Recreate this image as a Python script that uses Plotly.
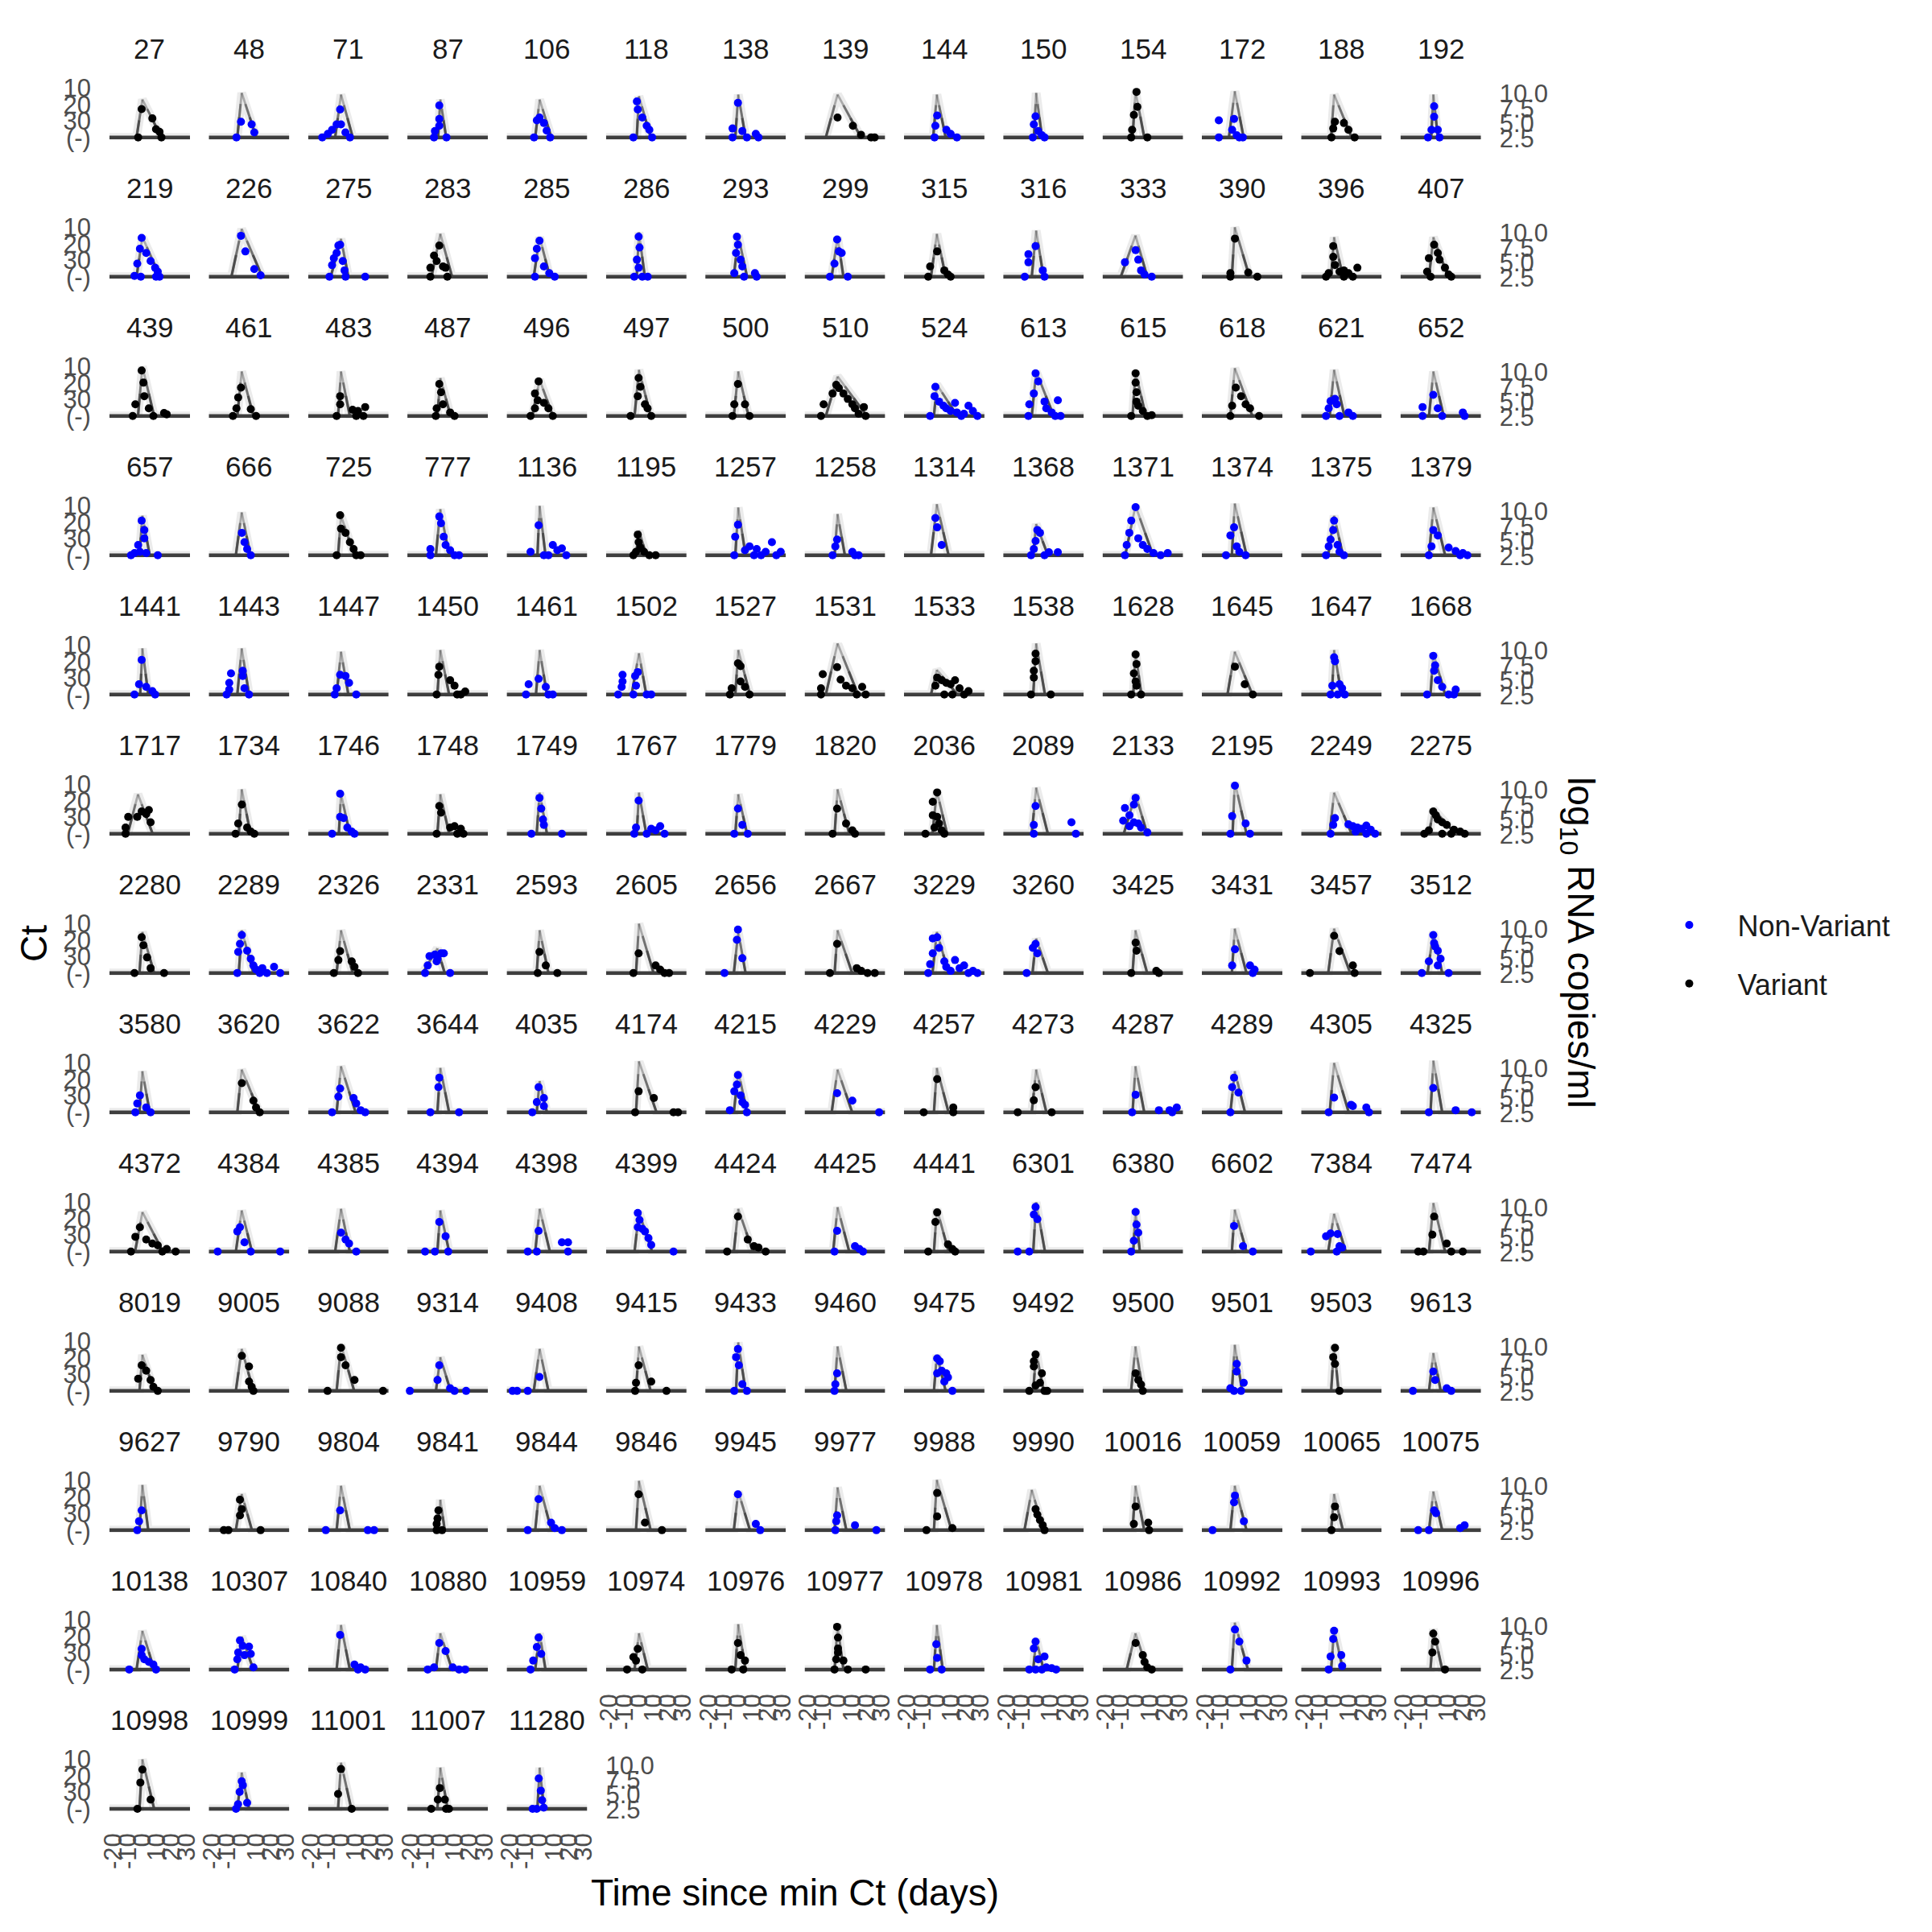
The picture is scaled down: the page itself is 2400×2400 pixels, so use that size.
import math
import plotly.graph_objects as go

# ---------------- data ----------------
ids = [27, 48, 71, 87, 106, 118, 138, 139, 144, 150, 154, 172, 188, 192,
       219, 226, 275, 283, 285, 286, 293, 299, 315, 316, 333, 390, 396, 407,
       439, 461, 483, 487, 496, 497, 500, 510, 524, 613, 615, 618, 621, 652,
       657, 666, 725, 777, 1136, 1195, 1257, 1258, 1314, 1368, 1371, 1374, 1375, 1379,
       1441, 1443, 1447, 1450, 1461, 1502, 1527, 1531, 1533, 1538, 1628, 1645, 1647, 1668,
       1717, 1734, 1746, 1748, 1749, 1767, 1779, 1820, 2036, 2089, 2133, 2195, 2249, 2275,
       2280, 2289, 2326, 2331, 2593, 2605, 2656, 2667, 3229, 3260, 3425, 3431, 3457, 3512,
       3580, 3620, 3622, 3644, 4035, 4174, 4215, 4229, 4257, 4273, 4287, 4289, 4305, 4325,
       4372, 4384, 4385, 4394, 4398, 4399, 4424, 4425, 4441, 6301, 6380, 6602, 7384, 7474,
       8019, 9005, 9088, 9314, 9408, 9415, 9433, 9460, 9475, 9492, 9500, 9501, 9503, 9613,
       9627, 9790, 9804, 9841, 9844, 9846, 9945, 9977, 9988, 9990, 10016, 10059, 10065, 10075,
       10138, 10307, 10840, 10880, 10959, 10974, 10976, 10977, 10978, 10981, 10986, 10992, 10993, 10996,
       10998, 10999, 11001, 11007, 11280]

# 1 = Variant, 0 = Non-Variant
is_variant = [1, 0, 0, 0, 0, 0, 0, 1, 0, 0, 1, 0, 1, 0,
              0, 0, 0, 1, 0, 0, 0, 0, 1, 0, 0, 1, 1, 1,
              1, 1, 1, 1, 1, 1, 1, 1, 0, 0, 1, 1, 0, 0,
              0, 0, 1, 0, 0, 1, 0, 0, 0, 0, 0, 0, 0, 0,
              0, 0, 0, 1, 0, 0, 1, 1, 1, 1, 1, 1, 0, 0,
              1, 1, 0, 1, 0, 0, 0, 1, 1, 0, 0, 0, 0, 1,
              1, 0, 1, 0, 1, 1, 0, 1, 0, 0, 1, 0, 1, 0,
              0, 1, 0, 0, 0, 1, 0, 0, 1, 1, 0, 0, 0, 0,
              1, 0, 0, 0, 0, 0, 1, 0, 1, 0, 0, 0, 0, 1,
              1, 1, 1, 0, 0, 1, 0, 0, 0, 1, 1, 0, 1, 0,
              0, 1, 0, 1, 0, 1, 0, 0, 1, 1, 1, 0, 1, 0,
              0, 0, 0, 0, 0, 1, 1, 1, 0, 0, 1, 0, 0, 1,
              1, 0, 1, 1, 0]

# fitted trajectory: peak Ct, time of peak, proliferation and clearance durations (days)
peak_ct = [17, 13, 14, 17, 17, 15, 14, 14, 14, 13, 12, 12, 14, 14,
           16, 11, 17, 14, 16, 13, 15, 16, 14, 12, 15, 10, 16, 16,
           10, 13, 13, 17, 18, 12, 13, 16, 21, 13, 13, 11, 12, 13,
           16, 14, 16, 12, 10, 25, 11, 15, 9, 21, 10, 8.5, 16, 11,
           12, 12, 14, 13, 13, 15, 13, 9, 25, 9, 14, 14, 13, 15,
           16, 13, 16, 16, 15, 15, 16, 13, 14, 12, 16, 8.5, 15, 25,
           15, 14, 14, 25, 14, 10, 15, 14, 15, 19, 14, 13, 13, 15,
           15, 14, 12, 13, 21, 9, 15, 14, 13, 14, 12, 15, 10, 8.5,
           16, 15, 14, 15, 14, 16, 14, 13, 14, 10, 14.5, 14.5, 17, 10.5,
           18, 14.5, 12, 19.5, 14.5, 13, 10.5, 13, 18, 16, 13, 12, 12, 17,
           12.5, 18, 13, 21.5, 13, 10, 16.5, 14, 9.5, 15.5, 13, 13, 18, 16.5,
           16.5, 20, 13, 18, 18, 18, 12.5, 13, 13, 21.5, 18, 11.5, 15.5, 15.5,
           10, 18, 12, 15, 15]
peak_t = [0] * 173
peak_t[ids.index(1717)] = -3
peak_t[ids.index(9990)] = -3
peak_t[ids.index(2331)] = -2
rise_days = [4, 3, 4, 1.5, 3, 1.5, 2, 8, 2.5, 1.5, 2, 4, 2, 1.5,
             4, 7, 7, 6, 4, 1.5, 3, 4, 4, 3, 10, 2, 2, 3,
             3, 3, 2, 2, 5, 3, 3, 8, 2, 3, 2, 3, 3, 3,
             2, 4, 2, 3, 1.5, 2, 2, 2, 4, 2, 7, 2, 4, 3,
             1.5, 3, 3, 2, 2.5, 5, 2, 8, 4, 2, 1.5, 5, 1.5, 2,
             7, 2, 1.5, 2, 2, 1.5, 2, 2, 3, 3, 8, 1.5, 3, 3,
             2, 2, 3, 10, 2, 2, 3, 2, 3, 2.5, 2, 2, 4, 4,
             2, 3, 3, 2, 2, 2, 3, 4, 2, 3, 2, 3, 3, 2,
             5, 4, 4, 2, 3, 3, 3, 3, 2, 2, 1.5, 2, 4, 3,
             2, 4, 3, 3, 4, 2, 1.5, 2, 2, 2, 3, 2, 2, 3,
             2, 4, 3, 1.5, 3, 2, 3, 2, 2, 5, 2, 3, 2, 3,
             4, 3, 3, 3, 3, 3, 2, 2, 2, 2, 6, 2, 2, 2,
             2, 3, 2, 2, 1.5]
clear_days = [13, 10, 8, 4, 8, 8, 5, 16, 6, 4, 6, 6, 12, 3,
              12, 14, 5, 8, 7, 4, 6, 4, 6, 5, 8, 10, 6, 10,
              8, 8, 6, 7, 9, 8, 7, 20, 14, 12, 7, 12, 7, 7,
              5, 6, 9, 6, 4, 5, 5, 5, 8, 8, 12, 8, 6, 8,
              4, 5, 5, 6, 5, 5, 8, 14, 14, 6, 4, 12, 5, 8,
              10, 6, 6, 6, 5, 5, 6, 8, 7, 8, 8, 8, 12, 15,
              8, 8, 8, 5, 6, 10, 5, 10, 8, 8, 8, 8, 11, 6,
              5, 12, 10, 6, 5, 12, 6, 10, 8, 7, 6, 7, 10, 6,
              14, 7, 6, 6, 7, 9, 10, 8, 8, 6, 3, 8, 8, 8,
              8, 8, 9, 7, 6, 8, 5, 6, 6, 5, 5, 5, 3, 5,
              4, 7, 6, 3, 8, 8, 8, 6, 10, 8, 6, 8, 6, 6,
              8, 8, 6, 8, 4, 6, 5, 4, 4, 5, 8, 9, 6, 6,
              8, 5, 7, 5, 3]

# observations: days since min Ct, Ct value (40 = negative test)
obs_t = [
    [-2.9, -0.5, 6.8, 9.3, 11.7, 13.0], [-3.6, -0.5, 6.8, 8.6], [-12.8, -9.0, -6.1, -3.0, -0.6, 0.0, 3.0, 6.1],
    [-4.3, -3.7, -0.7, -0.7, -0.7, 4.2], [-3.8, -1.9, -0.1, 2.9, 4.8, 7.2], [-3.8, -1.4, -0.8, 2.3, 5.3, 7.1, 9.0],
    [-3.9, -3.9, -0.2, 2.8, 5.9, 12.0, 13.8], [0.0, 10.5, 16.0, 22.9, 25.3], [-1.6, -1.0, 0.2, 6.5, 9.4, 13.7],
    [-2.3, -1.6, -0.4, 1.4, 3.9, 5.7], [-2.9, -2.3, -1.1, 0.7, 1.3, 8.1], [-10.9, -10.9, -1.8, -0.5, 1.3, 3.1, 5.5],
    [-1.8, -0.6, 0.6, 6.7, 9.8, 14.0], [-3.7, -1.3, 0.5, 0.5, 3.0, 4.2],
    # row 2
    [-5.4, -3.5, -1.7, -1.1, -0.5, 2.6, 5.6, 8.7, 9.3, 10.5, 11.7], [-0.5, 2.5, 8.6, 12.9],
    [-7.9, -6.1, -4.9, -3.0, -1.8, -0.6, 1.2, 2.4, 3.1, 16.5], [-6.8, -6.8, -4.3, -2.5, -0.7, 1.8, 3.6, 4.8],
    [-3.2, -3.2, -1.9, -0.1, 2.9, 6.6, 10.3], [-3.2, -1.4, -0.2, 0.4, -0.2, 2.3, 6.0],
    [-2.7, -1.5, -0.9, -0.2, 1.6, 2.8, 4.0, 11.4, 12.6], [-5.2, -2.1, -0.3, 0.9, 2.8, 7.0],
    [-5.9, -4.6, 0.2, 5.1, 7.6, 9.4], [-7.8, -5.3, -5.3, -0.4, 4.5, 5.7], [-7.2, 0.1, 1.9, 3.8, 6.2, 11.1],
    [-3.0, -3.0, 0.1, 9.2, 15.4], [-5.5, -3.7, -0.6, -0.6, 0.6, 3.7, 6.7, 6.7, 9.8, 12.8, 15.9],
    [-4.3, -3.1, -1.9, 0.5, 3.0, 4.2, 7.9, 10.4, 12.2],
    # row 3
    [-6.6, -4.8, -0.5, 0.7, 1.3, 4.4, 7.5, 14.8, 16.6], [-6.0, -3.6, -2.4, -0.5, 6.2, 9.8],
    [-3.0, -0.6, -0.6, 7.9, 10.4, 11.6, 15.3, 16.5], [-3.1, -2.5, -0.7, 0.5, 1.8, 6.7, 9.7],
    [-6.2, -3.2, -3.2, -1.3, -0.7, 2.9, 6.0, 9.0], [-5.7, -0.8, -0.2, 1.0, 4.1, 5.9, 8.4],
    [-3.9, -2.7, -0.2, 4.6, 7.7], [-11.3, -9.5, -3.4, -0.9, 0.9, 4.0, 7.0, 10.1, 11.9, 14.4, 18.0, 19.2],
    [-4.6, -1.6, -1.0, 1.5, 4.5, 6.4, 9.4, 12.4, 13.7, 16.7, 18.5, 21.6, 24.6, 27.7],
    [-5.3, -4.7, -1.6, -0.4, 1.4, 5.7, 6.9, 10.6, 13.0, 14.8, 16.7],
    [-2.9, 0.1, 0.1, 0.7, 0.7, 1.9, 5.0, 8.1, 11.1], [-3.0, -1.8, 0.7, 4.3, 7.4, 10.4, 16.6],
    [-5.5, -3.7, -2.4, 0.6, 1.8, 3.7, 9.8, 12.8], [-7.4, -7.4, -0.1, 3.0, 6.0, 20.1, 21.3],
    # row 4
    [-7.8, -5.4, -2.9, -1.7, -0.5, 1.3, 1.3, 2.6, 10.5], [0.1, 1.9, 3.7, 6.2],
    [-3.0, -0.6, 0.0, 3.1, 6.1, 8.6, 10.4, 13.4], [-6.8, -6.8, -0.7, 0.5, 2.3, 3.6, 6.7, 9.7, 12.8],
    [-6.2, -0.7, 2.9, 6.0, 9.0, 12.1, 15.2, 18.2], [-3.8, -2.0, -0.8, -0.2, 1.0, 3.5, 7.1, 11.4],
    [-2.7, -2.1, -0.2, 4.6, 7.7, 10.8, 12.6, 15.6, 18.7, 23.0, 26.0, 29.0], [-3.4, -1.5, -0.3, 10.1, 11.9, 14.4],
    [-1.0, 0.2, 3.3], [-3.5, -1.6, -0.4, 0.8, 2.6, 5.7, 8.7, 14.8],
    [-7.2, -6.0, -4.2, -2.9, 0.1, 1.9, 5.0, 8.1, 12.3, 17.2, 22.0], [-6.0, -3.0, -0.5, 1.3, 3.1, 7.4],
    [-5.5, -3.7, -2.4, -0.6, 0.0, 2.4, 3.7, 6.7], [-3.1, -1.3, -0.1, 3.0, 10.4, 15.2, 18.3, 20.1, 23.2],
    # row 5
    [-5.4, -2.3, -0.5, 2.6, 6.8, 8.7], [-10.3, -8.5, -8.5, -7.3, 0.7, 0.7, 1.9, 5.0],
    [-4.3, -3.0, -0.6, 3.1, 5.5, 10.4], [-2.5, -1.3, -0.7, 6.7, 9.7, 11.5, 14.0, 17.0],
    [-9.3, -7.5, -0.7, 4.2, 6.0, 9.0], [-14.2, -11.8, -11.2, -11.2, -3.8, -2.6, -2.0, -0.8, 5.3, 8.4],
    [-5.7, -4.5, -0.2, 1.6, 1.6, 4.6, 7.7], [-11.3, -11.3, -10.1, -0.3, 2.1, 5.8, 10.1, 13.1, 16.8, 19.2],
    [-1.0, 0.2, 3.3, 5.1, 6.4, 9.4, 10.6, 12.4, 15.5, 18.6, 21.6], [-3.5, -1.6, -1.6, -0.4, -0.4, 10.0],
    [-2.9, -1.1, 0.1, 0.1, 0.7, 0.7, 3.8], [0.1, 6.8, 12.3], [-2.4, -1.2, 0.0, 0.6, 2.4, 3.7, 5.5, 7.3],
    [-4.3, -0.1, 0.5, 1.2, 3.0, 6.0, 10.4, 14.0, 15.2],
    # row 6
    [-11.5, -11.5, -9.7, -3.5, -0.5, 2.6, 4.4, 5.6], [-4.2, -2.4, 0.1, 3.7, 6.2, 8.6],
    [-6.1, -0.6, -0.6, 1.8, 4.3, 7.3, 9.2], [-2.5, -0.7, 0.5, 6.7, 9.7, 11.6, 14.0, 15.8],
    [-5.6, -0.1, 1.1, 2.3, 2.9, 15.2], [-3.2, -2.0, -0.2, 5.3, 8.4, 11.4, 14.5, 17.5],
    [-2.7, -0.2, 2.8, 6.5], [-3.4, -0.3, 5.8, 10.1, 11.9], [-7.8, -2.8, -2.8, -1.6, 0.2, 0.2, 1.5, 3.3, 5.1],
    [-1.6, -1.6, -0.4, 24.1, 27.1], [-8.4, -7.2, -4.1, -4.1, -1.1, -1.1, 0.1, 1.9, 3.8, 8.1],
    [-3.0, -1.8, 0.1, 7.4, 10.4], [-2.4, -0.6, 0.6, 9.8, 12.8, 14.7, 15.9, 18.9, 22.0, 22.0, 25.0, 28.0],
    [-6.2, -3.1, -0.1, 1.7, 3.0, 6.0, 6.0, 9.1, 12.2, 14.0, 18.3, 21.4],
    # row 7
    [-5.4, -0.5, 0.7, 3.2, 5.6, 14.8], [-3.0, -2.4, -1.2, 0.1, 3.7, 6.2, 8.0, 9.8, 12.3, 14.1, 17.2, 22.1, 26.3],
    [-4.9, -1.8, -0.6, 7.3, 9.2, 11.6], [-10.4, -8.6, -7.4, -3.7, -2.5, -1.9, 0.5, 2.4, 6.7],
    [-1.3, -0.1, 4.2, 12.1], [-3.8, -0.2, 11.4, 14.5, 17.5, 20.6], [-9.4, -0.9, -0.2, 2.8],
    [-5.2, -0.3, 13.1, 16.2, 20.5, 25.4],
    [-5.9, -4.6, -2.8, -2.8, 0.2, 1.5, 5.1, 6.4, 9.4, 12.4, 15.5, 18.6, 21.6, 24.7, 27.7],
    [-6.5, -2.3, -0.4, 0.8], [-2.9, 0.1, 0.7, 14.2, 16.0], [-1.8, 0.1, 10.4, 12.3, 13.5],
    [-16.5, 0.0, 3.7, 12.8, 14.0], [-7.9, -3.1, -0.1, 0.5, 1.2, 3.0, 3.0, 4.9, 10.4],
    # row 8
    [-4.8, -3.5, -1.7, 2.6, 5.6], [0.1, 8.0, 9.8, 12.3], [-6.1, -1.8, -0.6, 8.6, 10.4, 13.4, 16.5],
    [-6.8, -1.3, -0.7, 12.8], [-5.0, -1.9, -0.7, 2.9, 2.9], [-2.6, -0.2, 10.2, 23.6, 26.7],
    [-5.7, -2.7, -0.9, -0.2, 1.6, 2.8, 4.6, 5.9], [-0.3, 10.1, 28.4], [-9.0, 0.2, 11.2, 11.2],
    [-12.6, -1.6, -0.4, 10.6], [-2.3, 0.1, 16.0, 23.3, 25.1, 28.2], [-3.0, -1.8, -0.5, 2.5],
    [-3.7, 0.0, 11.6, 12.8, 22.0, 23.8], [-3.1, -0.1, 15.2, 26.2],
    # row 9
    [-7.8, -4.8, -1.7, 2.6, 6.8, 10.5, 13.6, 16.6, 22.7], [-16.4, -3.0, -1.2, 1.9, 6.2, 26.3],
    [0.0, 3.1, 5.5, 10.4], [-10.4, -3.7, -0.7, 3.6, 5.4], [-8.1, -1.9, -0.7, 15.2, 19.4, 19.4],
    [-0.8, -0.8, 0.4, 2.3, 4.1, 6.5, 8.4, 23.6], [-7.6, -0.2, 6.5, 10.8, 13.8, 18.7],
    [-2.1, -0.3, 11.9, 14.9, 17.4], [-5.9, -1.0, 0.2, 7.6, 10.6, 12.5], [-12.6, -4.7, -1.6, -0.4, 0.8],
    [-2.9, -1.1, 0.1, 0.7, 1.9], [-0.5, 5.6, 12.3], [-15.9, -5.5, -2.4, 1.8, 2.4, 3.7, 5.5],
    [-10.4, -6.8, -0.7, 0.5, 9.1, 12.2, 20.1],
    # row 10
    [-2.9, -0.5, 2.6, 5.6, 7.5, 10.5], [0.1, 5.0, 5.0, 6.8, 8.0], [-9.2, 0.0, 0.0, 3.1, 9.2, 28.7],
    [-20.8, -1.9, -0.7, 6.7, 9.7, 17.6], [-18.5, -15.4, -8.1, -0.1], [-2.6, -2.0, -0.2, 8.4, 18.8],
    [-2.7, -1.5, -0.2, 0.4, 2.8, 5.9], [-2.1, -1.5, -0.3], [0.2, 0.2, 2.0, 3.3, 5.1, 6.4, 7.6, 10.6],
    [-4.7, -1.6, -1.6, -0.4, -0.4, 2.6, 3.9, 5.7, 7.5], [0.1, 1.9, 3.8, 5.0],
    [-3.0, -0.5, 1.3, 1.3, 4.3, 6.1], [-0.6, 0.6, 0.6, 3.7], [-14.0, -0.1, 1.2, 9.1, 12.2],
    # row 11
    [-3.5, -2.3, -0.5], [-12.2, -9.1, -1.2, -1.2, 0.1, 12.9], [-10.4, -0.6, 18.3, 22.6],
    [-2.5, -2.5, -1.9, -1.3, 1.2], [-8.1, -0.7, 7.8, 10.3, 15.2], [-0.2, 4.1, 15.7], [-0.2, 12.0, 15.0],
    [-1.5, -0.9, -0.3, 11.9, 26.5], [-7.1, 0.2, 0.2, 10.6], [-0.4, 0.8, 2.6, 4.5, 5.7],
    [-1.1, 0.1, 8.7, 9.3], [-15.2, -0.5, 0.1, 6.2], [-1.8, 0.0, 0.6], [-10.4, -3.1, 0.5, 1.8, 18.3, 21.3],
    # row 12
    [-9.0, -0.5, -0.5, 1.3, 4.4, 7.5, 9.3], [-4.8, -3.0, -2.4, -1.2, 0.7, 1.9, 5.0, 6.2, 8.0],
    [-0.6, 9.2, 11.6, 13.4, 16.5], [-8.6, -4.3, -0.7, 3.6, 8.5, 12.8, 17.0], [-6.2, -4.4, -1.9, -0.7, 1.1],
    [-8.1, -3.8, -2.0, -0.8, 2.3], [-4.5, -0.2, 1.6, 3.4, 4.6],
    [-2.1, -0.9, -0.3, 0.3, 0.3, 0.3, 4.0, 7.0, 19.2], [-4.6, -0.4, 0.2, 3.3],
    [-4.7, -1.6, -0.4, -0.4, 1.4, 3.9, 5.7, 6.9, 10.6, 13.6], [0.1, 5.0, 6.2, 8.1, 11.1],
    [-3.0, 0.1, 3.1, 8.0], [-3.7, -2.4, -0.6, 0.0, 4.9, 5.5], [-0.7, -0.1, 1.2, 7.9],
    # row 13
    [-3.4, -1.4, 0.0, 5.6], [-3.9, -2.5, -1.4, 0.0, 0.8, 3.7], [-2.0, 0.0, 7.3],
    [-6.2, -1.7, -0.3, 3.1, 3.9, 5.9], [-4.8, -2.0, -0.6, 0.8, 1.7, 2.8],
]
obs_ct = [
    [40, 22.8, 28.5, 35.0, 36.6, 40], [40, 30.5, 32.1, 37.0], [40, 37.9, 35.4, 32.1, 23.1, 32.1, 37.0, 40],
    [40, 36.2, 33.0, 28.8, 20.6, 40], [40, 29.7, 28.0, 31.3, 35.9, 40], [40, 18.2, 23.1, 28.0, 33.0, 35.4, 40],
    [40, 34.6, 19.0, 36.2, 40, 37.9, 40], [28.0, 33.0, 38.4, 40, 40], [40, 33.0, 26.7, 35.4, 37.9, 40],
    [40, 32.1, 27.2, 36.2, 38.7, 40], [40, 35.4, 26.4, 12.4, 21.5, 40], [40, 29.7, 35.4, 28.8, 38.7, 40, 40],
    [40, 34.6, 30.5, 31.3, 35.4, 40], [40, 35.4, 27.5, 21.1, 35.4, 40],
    # row 2
    [39.5, 32.1, 23.1, 40, 16.5, 25.6, 30.5, 34.6, 40, 37.0, 40], [15.2, 24.7, 35.4, 39.2],
    [40, 33.0, 28.8, 25.6, 21.1, 20.6, 30.5, 36.2, 40, 40], [40, 34.6, 27.2, 30.5, 21.1, 33.8, 34.6, 40],
    [40, 28.8, 23.1, 18.2, 33.8, 37.9, 40], [40, 29.7, 15.7, 22.3, 34.6, 40, 40],
    [37.9, 25.6, 15.7, 20.6, 29.7, 33.8, 40, 37.9, 40], [40, 32.1, 17.4, 24.7, 25.6, 40],
    [40, 33.8, 24.7, 36.2, 38.7, 40], [40, 31.3, 26.4, 21.5, 36.2, 40], [31.3, 23.9, 29.7, 36.2, 38.7, 40],
    [40, 37.9, 16.9, 37.5, 40], [40, 37.9, 21.5, 28.0, 32.9, 37.0, 36.2, 40, 37.9, 40, 34.6],
    [37.0, 28.8, 40, 20.6, 25.6, 29.7, 34.6, 38.7, 40],
    # row 3
    [40, 32.9, 12.4, 19.8, 28.0, 35.4, 40, 38.2, 39.0], [40, 35.4, 28.8, 22.8, 35.9, 40],
    [40, 32.9, 28.0, 36.2, 40, 37.0, 40, 34.6], [40, 35.4, 20.6, 25.6, 32.9, 37.9, 40],
    [40, 35.4, 26.4, 30.5, 19.0, 32.1, 35.4, 40], [40, 28.0, 16.9, 22.3, 32.9, 35.4, 40],
    [40, 32.9, 20.6, 32.9, 40], [40, 32.9, 26.4, 21.1, 23.1, 26.4, 29.7, 32.9, 35.4, 38.7, 34.6, 40],
    [40, 28.0, 22.3, 31.3, 33.8, 35.4, 37.0, 32.1, 37.9, 40, 38.7, 33.8, 37.0, 40],
    [40, 32.9, 26.4, 14.1, 19.0, 31.3, 35.4, 37.9, 40, 30.5, 40],
    [40, 14.1, 19.8, 25.6, 31.3, 33.8, 37.0, 40, 39.5], [40, 33.8, 22.8, 28.0, 32.9, 35.4, 40],
    [40, 35.4, 31.0, 29.7, 32.9, 40, 37.9, 40], [40, 34.6, 27.2, 35.4, 40, 37.9, 40],
    # row 4
    [40, 38.7, 33.8, 37.9, 19.0, 24.7, 29.7, 38.7, 40], [26.4, 32.1, 36.2, 40],
    [40, 15.7, 23.9, 26.4, 32.1, 36.2, 40, 40], [40, 36.2, 16.5, 20.6, 28.8, 33.8, 37.0, 40, 40],
    [37.9, 21.8, 40, 40, 33.8, 37.0, 35.9, 40], [40, 37.9, 27.5, 32.1, 35.4, 37.9, 40, 40],
    [40, 28.8, 21.5, 37.0, 34.6, 40, 36.2, 40, 37.9, 32.1, 40, 37.9], [40, 34.6, 30.5, 37.9, 40, 40],
    [17.4, 23.1, 33.8], [40, 36.2, 31.3, 24.7, 26.4, 40, 38.2, 38.2],
    [40, 33.8, 26.4, 19.0, 10.8, 29.7, 33.8, 36.2, 38.7, 40, 38.7], [40, 28.0, 23.1, 34.6, 37.9, 40],
    [40, 34.6, 30.5, 24.7, 19.0, 33.8, 37.9, 40], [40, 34.6, 24.7, 28.0, 35.4, 37.5, 40, 38.7, 40],
    # row 5
    [40, 33.8, 19.0, 35.4, 37.9, 40], [40, 37.0, 32.9, 27.2, 25.6, 28.8, 36.2, 40],
    [40, 36.2, 28.0, 28.8, 32.9, 40], [40, 28.0, 23.1, 31.3, 34.6, 40, 40, 38.2],
    [40, 33.8, 30.5, 35.4, 40, 40], [40, 35.4, 32.1, 28.0, 40, 28.8, 34.6, 26.4, 40, 40],
    [40, 36.2, 21.1, 22.8, 32.1, 35.4, 40], [40, 36.2, 27.7, 23.4, 31.0, 34.6, 36.2, 40, 35.4, 40],
    [34.6, 29.7, 31.3, 40, 32.9, 33.8, 40, 31.3, 36.2, 40, 37.9], [40, 29.7, 25.6, 19.8, 15.2, 40],
    [40, 27.2, 15.7, 32.1, 21.5, 34.6, 40], [23.1, 33.8, 40], [40, 34.6, 17.4, 19.8, 40, 33.8, 36.2, 40],
    [40, 16.5, 25.6, 22.3, 31.3, 35.4, 40, 40, 37.0],
    # row 6
    [40, 36.2, 29.7, 29.7, 26.4, 28.0, 25.6, 33.0], [40, 33.8, 22.3, 36.2, 38.7, 40],
    [40, 29.7, 15.7, 30.5, 36.2, 38.7, 40], [40, 23.1, 27.2, 36.2, 35.4, 40, 37.0, 40],
    [40, 18.2, 24.7, 31.3, 34.6, 40], [40, 36.2, 19.8, 40, 37.0, 37.9, 35.4, 40],
    [40, 24.7, 34.6, 40], [40, 24.7, 33.8, 37.9, 40], [40, 28.8, 20.6, 36.2, 14.9, 29.7, 33.8, 37.9, 40],
    [40, 34.6, 23.1, 33.0, 40], [32.1, 24.4, 28.8, 35.4, 22.3, 33.0, 18.2, 33.8, 36.2, 39.2],
    [40, 29.3, 10.8, 33.8, 40], [40, 34.6, 30.5, 34.3, 35.4, 38.7, 36.2, 37.0, 35.0, 40, 37.5, 40],
    [40, 37.9, 26.4, 28.8, 31.3, 33.0, 40, 34.6, 40, 37.5, 38.7, 40],
    # row 7
    [40, 18.2, 23.1, 30.5, 37.0, 40], [40, 27.2, 22.3, 16.9, 26.4, 31.3, 35.4, 37.9, 40, 37.0, 40, 36.2, 40],
    [40, 32.1, 26.7, 32.9, 36.2, 40], [40, 35.4, 29.7, 28.8, 32.9, 31.3, 28.0, 28.0, 40],
    [40, 27.2, 35.4, 40], [40, 28.0, 35.4, 37.9, 40, 40], [40, 19.8, 13.6, 31.0],
    [40, 22.3, 37.0, 38.7, 40, 40],
    [40, 34.6, 28.0, 19.0, 18.2, 24.7, 32.9, 36.2, 38.7, 32.1, 37.0, 35.4, 40, 38.7, 40],
    [40, 24.7, 22.3, 28.0], [40, 21.5, 26.4, 38.7, 40], [35.4, 25.6, 35.4, 40, 37.9],
    [40, 17.4, 26.7, 35.4, 40], [40, 32.9, 16.9, 21.8, 23.9, 26.4, 35.4, 31.3, 40],
    # row 8
    [40, 34.6, 29.7, 37.0, 40], [22.3, 32.9, 37.0, 40], [40, 30.5, 25.6, 31.3, 34.6, 38.7, 40],
    [40, 24.7, 19.0, 40], [40, 33.8, 24.7, 31.3, 36.2], [40, 27.2, 31.3, 40, 40],
    [38.7, 27.2, 23.1, 17.4, 29.7, 33.8, 35.4, 40], [28.4, 32.9, 40], [40, 19.8, 37.0, 40],
    [40, 32.6, 24.7, 40], [40, 29.3, 38.7, 38.7, 40, 37.0], [40, 24.7, 19.0, 28.0],
    [40, 31.0, 35.4, 36.2, 37.0, 40], [40, 25.2, 38.7, 40],
    # row 9
    [40, 31.0, 25.2, 32.6, 35.1, 36.2, 40, 38.4, 40], [40, 27.7, 25.2, 34.3, 40, 40],
    [28.5, 32.6, 35.1, 40], [40, 40, 22.0, 30.7, 40], [40, 40, 27.4, 34.3, 34.3, 40],
    [25.2, 16.5, 20.8, 26.1, 27.7, 31.8, 35.9, 40], [40, 18.7, 32.6, 36.7, 37.5, 40],
    [40, 27.4, 36.7, 38.4, 40], [40, 22.0, 16.2, 35.6, 38.4, 40], [40, 40, 17.5, 12.9, 20.3],
    [40, 33.4, 15.9, 23.6, 28.5], [24.4, 36.7, 40], [40, 30.7, 29.0, 40, 29.3, 36.7, 37.5],
    [40, 40, 29.7, 18.7, 35.1, 40, 40],
    # row 10
    [32.6, 24.4, 27.7, 33.4, 37.5, 40], [18.7, 25.2, 34.3, 37.5, 40], [40, 13.8, 19.5, 24.4, 33.4, 40],
    [40, 33.4, 24.4, 38.4, 40, 40], [40, 40, 40, 31.5], [40, 35.1, 24.4, 34.3, 40],
    [40, 19.5, 14.6, 24.4, 35.9, 40], [40, 35.9, 29.3], [20.3, 29.3, 22.0, 27.7, 34.3, 29.3, 31.8, 40],
    [40, 25.2, 22.0, 17.9, 36.7, 35.1, 29.3, 40, 40], [29.3, 33.4, 36.2, 40],
    [38.4, 40, 23.6, 28.2, 40, 35.1], [19.5, 13.8, 23.6, 40], [40, 28.2, 33.4, 38.4, 40],
    # row 11
    [40, 34.6, 28.0], [40, 40, 21.5, 31.0, 27.2, 40], [40, 28.0, 40, 40],
    [40, 36.2, 32.9, 28.0, 40], [40, 21.1, 35.4, 38.7, 40], [18.2, 35.4, 40], [18.2, 36.2, 40],
    [40, 34.6, 31.0, 37.0, 40], [40, 17.4, 31.6, 38.7], [27.2, 30.5, 33.8, 37.0, 40],
    [36.2, 25.6, 35.4, 40], [40, 23.1, 19.0, 34.6], [40, 32.1, 25.6], [40, 40, 28.0, 29.7, 38.7, 37.0],
    # row 12
    [40, 27.5, 31.3, 33.8, 35.4, 37.0, 40], [40, 33.8, 29.7, 22.3, 25.6, 31.3, 26.1, 30.5, 38.7],
    [19.0, 37.0, 40, 38.7, 40], [40, 38.7, 23.9, 28.8, 38.7, 40, 40], [40, 34.6, 26.4, 20.6, 30.5],
    [40, 32.5, 34.6, 27.5, 40], [40, 23.9, 31.3, 40, 34.6],
    [40, 33.8, 14.1, 20.6, 27.2, 29.7, 34.6, 40, 40], [40, 24.7, 33.0, 40],
    [40, 27.2, 23.1, 40, 33.8, 40, 32.1, 38.7, 39.2, 40], [23.9, 31.3, 35.4, 38.7, 40],
    [40, 15.7, 23.1, 34.6], [40, 32.1, 21.5, 16.5, 31.3, 37.9], [29.7, 18.2, 23.1, 40],
    # row 13
    [40, 24.1, 16.2, 34.4], [40, 37.2, 29.8, 23.3, 25.7, 36.4], [31.0, 15.9, 40],
    [40, 34.4, 27.4, 34.4, 40, 40], [40, 40, 21.6, 29.0, 34.8, 39.3],
]

x_ticks = [-20, -10, 0, 10, 20, 30]
x_range = [-22.5, 32.5]
ct_ticks = [10, 20, 30, 40]
ct_tick_text = ["10", "20", "30", "(-)"]
ct_range = [41.5, 8.5]          # reversed: low Ct (high load) at the top
negative_ct = 40
log_ticks = [10.0, 7.5, 5.0, 2.5]
group_names = {0: "Non-Variant", 1: "Variant"}
group_colors = {0: "#0000FF", 1: "#000000"}

# Ct <-> log10 RNA copies/ml conversion (secondary axis)
def log_to_ct(v):
    return 40.93733 - 3.60971 * (v - math.log10(250))

# ---------------- layout geometry (target screen pixels of the 2400x2400 picture) ----------------
W = H = 2384
SCALE = 0.989      # measured screen / figure pixel ratio of the renderer
SHIFT = 12.6       # measured screen offset of the figure origin
NCOL = 14
n = len(ids)
PANEL_W = 100.0
COL_PITCH = 123.3
LEFT0 = 135.5
ROW_PITCH = 173.3
BASE0 = 169.5          # screen y of Ct 40 in the first row
PX_PER_CT = 2.05

def px_x(v):
    return ((v - SHIFT) / SCALE) / W

def px_y(v):
    return 1 - ((v - SHIFT) / SCALE) / H

FONT = "Liberation Sans, Arial, sans-serif"
TICK_COLOR = "#4D4D4D"

# trajectory shading layers: (fraction of rise height drawn, colour, width)
core_layers = [(1.0, "rgba(30,30,30,0.32)", 2.8),
               (0.75, "rgba(30,30,30,0.40)", 3.0),
               (0.45, "rgba(30,30,30,0.45)", 3.3)]

fig = go.Figure()
layout_axes = {}
annotations = []
legend_done = set()
last_row_of_col = {}
for i in range(n):
    last_row_of_col[i % NCOL] = i // NCOL

right_axis_idx = n + 1
for i in range(n):
    r, c = divmod(i, NCOL)
    k = i + 1
    xname = "x" if k == 1 else f"x{k}"
    yname = "y" if k == 1 else f"y{k}"
    xkey = "xaxis" if k == 1 else f"xaxis{k}"
    ykey = "yaxis" if k == 1 else f"yaxis{k}"

    left = LEFT0 + COL_PITCH * c
    right = left + PANEL_W
    base = BASE0 + ROW_PITCH * r
    top = base - (negative_ct - ct_range[1]) * PX_PER_CT
    bottom = base + (ct_range[0] - negative_ct) * PX_PER_CT

    show_x = (r == last_row_of_col[c])
    layout_axes[xkey] = dict(
        domain=[px_x(left), px_x(right)], anchor=yname, range=x_range,
        showgrid=False, zeroline=False, showline=False, ticks="",
        tickmode="array", tickvals=x_ticks, ticktext=[str(v) for v in x_ticks],
        showticklabels=show_x, tickangle=-90, ticklabelstandoff=20,
        tickfont=dict(size=31, color=TICK_COLOR, family=FONT),
    )
    layout_axes[ykey] = dict(
        domain=[px_y(bottom), px_y(top)], anchor=xname, range=ct_range,
        showgrid=False, zeroline=False, showline=False, ticks="",
        tickmode="array", tickvals=ct_ticks, ticktext=ct_tick_text,
        showticklabels=(c == 0), ticklabelstandoff=22,
        tickfont=dict(size=31, color=TICK_COLOR, family=FONT),
    )
    if c == NCOL - 1 or i == n - 1:
        rk = right_axis_idx
        right_axis_idx += 1
        layout_axes[f"yaxis{rk}"] = dict(
            overlaying=yname, anchor=xname, side="right", range=ct_range,
            showgrid=False, zeroline=False, showline=False, ticks="",
            tickmode="array", tickvals=[log_to_ct(v) for v in log_ticks],
            ticktext=[f"{v:.1f}" for v in log_ticks], ticklabelstandoff=22,
            tickfont=dict(size=31, color=TICK_COLOR, family=FONT),
        )
        # invisible anchor trace so the secondary axis is drawn
        fig.add_trace(go.Scatter(x=[x_range[0]], y=[negative_ct], xaxis=xname, yaxis=f"y{rk}",
                                 mode="markers", marker=dict(opacity=0, size=1),
                                 showlegend=False, hoverinfo="skip"))

    # fitted trajectory (onset -> peak -> clearance), drawn as fading layers
    tp = peak_t[i]
    x0 = tp - rise_days[i]
    x1 = tp + clear_days[i]
    p = peak_ct[i]
    fig.add_trace(go.Scatter(x=[x_range[0], x0, tp, x1, x_range[1]],
                             y=[negative_ct, negative_ct, p, negative_ct, negative_ct],
                             xaxis=xname, yaxis=yname, mode="lines",
                             line=dict(color="rgba(0,0,0,0.08)", width=11),
                             showlegend=False, hoverinfo="skip", cliponaxis=False))
    for f, col, wdt in core_layers:
        lvl = negative_ct - f * (negative_ct - p)
        fig.add_trace(go.Scatter(
            x=[x0, x0 + f * rise_days[i], None, x1 - f * clear_days[i], x1],
            y=[negative_ct, lvl, None, lvl, negative_ct],
            xaxis=xname, yaxis=yname, mode="lines", connectgaps=False,
            line=dict(color=col, width=wdt),
            showlegend=False, hoverinfo="skip", cliponaxis=False))
    fig.add_trace(go.Scatter(x=x_range, y=[negative_ct, negative_ct], xaxis=xname, yaxis=yname,
                             mode="lines", line=dict(color="rgb(62,62,62)", width=4.5),
                             showlegend=False, hoverinfo="skip", cliponaxis=False))
    g = is_variant[i]
    fig.add_trace(go.Scatter(
        x=obs_t[i], y=obs_ct[i], xaxis=xname, yaxis=yname, mode="markers",
        marker=dict(color=group_colors[g], size=10, line=dict(width=0)),
        name=group_names[g], legendgroup=group_names[g], legendrank=2 if g else 1,
        showlegend=(g not in legend_done), cliponaxis=False,
    ))
    legend_done.add(g)

    annotations.append(dict(
        text=str(ids[i]), x=px_x((left + right) / 2), y=px_y(base - 110.5),
        xref="paper", yref="paper", showarrow=False, xanchor="center", yanchor="middle",
        font=dict(size=35, color="#1A1A1A", family=FONT),
    ))

annotations += [
    dict(text="Ct", x=px_x(41), y=px_y(1172), xref="paper", yref="paper", showarrow=False,
         xanchor="center", yanchor="middle", textangle=-90,
         font=dict(size=46, color="#000000", family=FONT)),
    dict(text="log<sub>10</sub> RNA copies/ml", x=px_x(1959), y=px_y(1172), xref="paper",
         yref="paper", showarrow=False, xanchor="center", yanchor="middle", textangle=90,
         font=dict(size=46, color="#000000", family=FONT)),
    dict(text="Time since min Ct (days)", x=px_x(987), y=px_y(2353), xref="paper", yref="paper",
         showarrow=False, xanchor="center", yanchor="middle",
         font=dict(size=46, color="#000000", family=FONT)),
]

fig.update_layout(
    width=W, height=H, margin=dict(l=0, r=0, t=0, b=0),
    paper_bgcolor="white", plot_bgcolor="white",
    annotations=annotations,
    showlegend=True,
    legend=dict(x=px_x(2037), y=px_y(1186), xanchor="left", yanchor="middle",
                font=dict(size=36, color="#1A1A1A", family=FONT),
                itemwidth=110, tracegroupgap=23, itemsizing="trace",
                bgcolor="rgba(0,0,0,0)"),
    **layout_axes,
)

fig.write_html("out.html")
